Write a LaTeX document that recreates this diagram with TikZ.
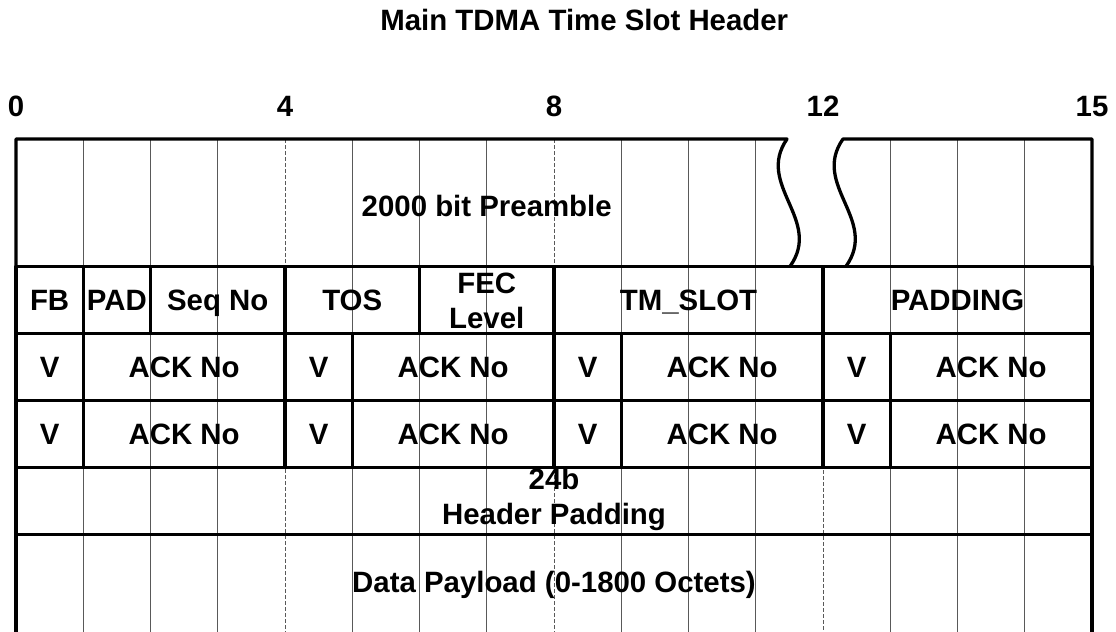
\documentclass[tikz,border=0pt]{standalone}
\usepackage{fontspec}
\setmainfont{Liberation Sans}

\tikzset{
  borderline/.style={line width=1.65pt, line join=round},
  bitline/.style={black!65, line width=0.45pt},
  octetline/.style={bitline, dash pattern=on 2pt off 1pt},
  fieldfont/.style={font=\bfseries\fontsize{14.7}{17.5}\selectfont, inner sep=0pt},
  onetext/.style={fieldfont, anchor=base, yshift=-5.26pt},
  twotext/.style={fieldfont, align=center}
}

\begin{document}
\begin{tikzpicture}[x=33.625pt, y=-33.5pt]
  \useasboundingbox (-0.238,-2.075) rectangle (16.357,7.358);

  % bit grid
  \foreach \k in {1,2,3,5,6,7,9,10,11,13,14,15}
    \draw[bitline] (\k,0) -- (\k,7.358);
  \foreach \k in {4,8}
    \draw[octetline] (\k,0) -- (\k,7.358);
  \draw[octetline] (12,1.9) -- (12,7.358);

  % title and bit numbers
  \node[onetext] (title) at (8.45,-1.776) {Main TDMA Time Slot Header};
  \foreach \k/\t in {0/0,4/4,8/8,12/12,16/15}
    \node[onetext] (n\k) at (\k,-0.4925) {\t};

  % preamble with break
  \draw[borderline] (0,1.9) -- (0,0) -- (11.465,0)
    .. controls (10.99,0.687) and (12.0,1.209) .. (11.51,1.9);
  \draw[borderline] (16,1.9) -- (16,0) -- (12.297,0)
    .. controls (11.82,0.687) and (12.833,1.209) .. (12.342,1.9);
  \node[onetext] (pre) at (7,1.0) {2000 bit Preamble};

  % header rows
  \draw[borderline] (0,1.9) rectangle (16,4.9);
  \foreach \y in {2.9,3.9,5.9}
    \draw[borderline] (0,\y) -- (16,\y);
  \draw[borderline] (0,4.9) -- (0,7.358);
  \draw[borderline] (16,4.9) -- (16,7.358);
  \foreach \x in {1,2,4,6,8,12}
    \draw[borderline] (\x,1.9) -- (\x,2.9);
  \foreach \x in {1,4,5,8,9,12,13}
    \draw[borderline] (\x,2.9) -- (\x,4.9);

  % field names
  \foreach \x/\t/\n in {0.5/FB/fb, 1.5/PAD/pad, 3/Seq No/seq, 5/TOS/tos,
                        10/TM\_SLOT/slot, 14/PADDING/padding}
    \node[onetext] (\n) at (\x,2.4) {\t};
  \node[twotext] (fec) at (7,2.42) {FEC\\Level};

  \foreach \y/\r in {3.4/a,4.4/b}
    \foreach \x/\i in {0/1,4/2,8/3,12/4} {
      \node[onetext] (v\r\i) at (\x+0.5,\y) {V};
      \node[onetext] (ack\r\i) at (\x+2.5,\y) {ACK No};
    }

  \node[twotext] (hpad) at (8,5.38) {24b\\Header Padding};
  \node[onetext] (data) at (8,6.61) {Data Payload (0-1800 Octets)};
\end{tikzpicture}
\end{document}
